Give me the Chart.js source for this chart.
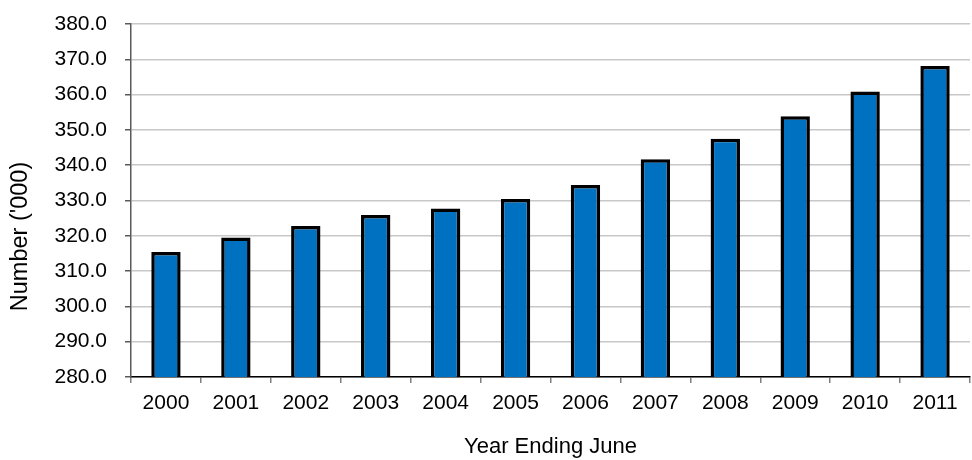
<!DOCTYPE html>
<html>
<head>
<meta charset="utf-8">
<script src="https://cdn.jsdelivr.net/npm/chart.js@4/dist/chart.umd.min.js"></script>
<style>
  html, body { margin: 0; padding: 0; background: #fff; }
  #wrap { width: 972px; height: 460px; }
</style>
</head>
<body>
<div id="wrap"><canvas id="c" width="972" height="460"></canvas></div>
<script>
// Population, year ending June ('000)
const years = ['2000', '2001', '2002', '2003', '2004', '2005', '2006', '2007', '2008', '2009', '2010', '2011'];
const population = [315.4, 319.5, 322.8, 325.9, 327.7, 330.4, 334.4, 341.7, 347.5, 353.9, 360.9, 368.1];
const yMin = 280;
const yMax = 380;
const yStep = 10;
const yTitle = "Number ('000)";
const xTitle = 'Year Ending June';

const FONT = "'Liberation Sans', Arial, sans-serif";

// Vertical axis caption, set a little below the middle of the value axis
const yCaption = {
  id: 'yCaption',
  afterDraw(chart) {
    const ctx = chart.ctx;
    const area = chart.chartArea;
    ctx.save();
    ctx.translate(21, (area.top + area.bottom) / 2 + 36);
    ctx.rotate(-Math.PI / 2);
    ctx.fillStyle = '#000000';
    ctx.font = "23.5px " + FONT;
    ctx.textAlign = 'center';
    ctx.textBaseline = 'middle';
    ctx.fillText(yTitle, 0, 0);
    ctx.restore();
  }
};

new Chart(document.getElementById('c'), {
  type: 'bar',
  data: {
    labels: years,
    datasets: [{
      data: population,
      backgroundColor: '#0070C0',
      borderColor: '#000000',
      borderWidth: 3.5,
      borderSkipped: false,
      categoryPercentage: 1.0,
      barPercentage: 0.42
    }]
  },
  plugins: [yCaption],
  options: {
    responsive: false,
    animation: false,
    devicePixelRatio: 1,
    layout: { padding: { top: 24, right: 2, bottom: 0, left: 0 } },
    plugins: {
      legend: { display: false },
      tooltip: { enabled: false }
    },
    scales: {
      x: {
        grid: {
          display: true,
          offset: true,
          drawOnChartArea: false,
          drawTicks: true,
          tickLength: 6,
          tickColor: '#7f7f7f',
          lineWidth: 1.5
        },
        border: { display: true, color: '#000000', width: 1.5 },
        ticks: {
          color: '#000000',
          font: { family: FONT, size: 21 },
          padding: 8,
          maxRotation: 0
        },
        title: {
          display: true,
          text: xTitle,
          color: '#000000',
          font: { family: FONT, size: 22 },
          padding: { top: 0, bottom: 0 }
        },
        afterFit: (s) => { s.height = 83; }
      },
      y: {
        min: yMin,
        max: yMax,
        grid: {
          color: '#c8c8c8',
          lineWidth: 1.5,
          drawTicks: true,
          tickLength: 6,
          tickColor: '#595959'
        },
        border: { display: true, color: '#595959', width: 1.5 },
        ticks: {
          stepSize: yStep,
          color: '#000000',
          font: { family: FONT, size: 21 },
          padding: 18,
          callback: (v) => Number(v).toFixed(1)
        },
        afterFit: (s) => {
          s.width = 131;
          s.paddingTop = 0;
          s.paddingBottom = 0;
        }
      }
    }
  }
});
</script>
</body>
</html>
